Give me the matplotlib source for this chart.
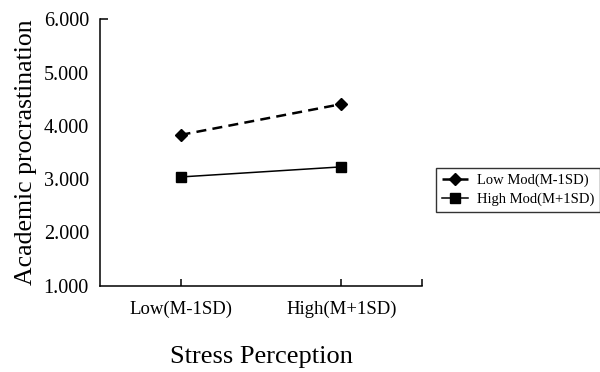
import numpy as np
import matplotlib
matplotlib.use('Agg')
import matplotlib.pyplot as plt

categories = ['Low(M-1SD)', 'High(M+1SD)']
low_mod = [3.83, 4.41]
high_mod = [3.04, 3.23]
series_labels = ['Low Mod(M-1SD)', 'High Mod(M+1SD)']
y_ticks = [1.0, 2.0, 3.0, 4.0, 5.0, 6.0]

plt.rcParams['font.family'] = ['Liberation Serif', 'DejaVu Serif']

fig = plt.figure(figsize=(6, 3.72), dpi=100)
ax = fig.add_axes([0.1667, 0.2325, 0.5366, 0.7151])

x = np.arange(len(categories))
ax.plot(x, low_mod, color='black', linestyle=(0, (4, 2.5)), linewidth=1.8,
        marker='D', markersize=6.5, label=series_labels[0])
ax.plot(x, high_mod, color='black', linestyle='-', linewidth=1.1,
        marker='s', markersize=7.5, label=series_labels[1])

ax.set_xlim(-0.5, 1.5)
ax.set_ylim(1.0, 6.0)
ax.set_xticks(x)
ax.set_xticklabels(categories, fontsize=13.5)
ax.set_yticks(y_ticks)
ax.set_yticklabels(['{:.3f}'.format(v) for v in y_ticks], fontsize=14.5)

# only the top of the y axis carries a tick, drawn inward like an end cap
ax.tick_params(axis='y', which='major', direction='in', length=6, width=1.1, pad=8)
for i, t in enumerate(ax.yaxis.get_major_ticks()):
    if i < len(y_ticks) - 1:
        t.tick1line.set_visible(False)

ax.set_xticks([1.5], minor=True)
ax.tick_params(axis='x', which='both', direction='in', length=5, width=1.1, pad=11)

for s in ['top', 'right']:
    ax.spines[s].set_visible(False)
for s in ['left', 'bottom']:
    ax.spines[s].set_linewidth(1.1)

ax.set_ylabel('Academic procrastination', fontsize=18.5, labelpad=5)
ax.set_xlabel('Stress Perception', fontsize=19, labelpad=20)

leg = fig.legend(loc='center left', bbox_to_anchor=(0.727, 0.489),
                 fontsize=10.5, frameon=True, fancybox=False, edgecolor='black',
                 handlelength=1.8, borderpad=0.4, labelspacing=0.4,
                 handletextpad=0.6, borderaxespad=0)
leg.get_frame().set_linewidth(1.0)

plt.savefig('out.png', dpi=100)
